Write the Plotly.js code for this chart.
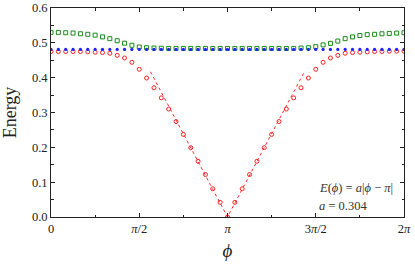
<!DOCTYPE html>
<html>
<head>
<meta charset="utf-8">
<script src="https://cdn.plot.ly/plotly-3.0.1.min.js"></script>
<style>html,body{margin:0;padding:0;background:#fff;}#chart{width:415px;height:265px;}</style>
</head>
<body>
<div id="chart"></div>
<script>
// index i -> phi = i*pi/24, i = 0..48
var nPoints = 49;
var redE = [0.475,0.475,0.475,0.475,0.475,0.474,0.473,0.472,0.470,0.464,0.4565,0.444,0.424,0.399,0.371,0.342,0.310,0.274,0.237,0.199,0.160,0.122,0.081,0.042,0.000,
            0.042,0.081,0.122,0.160,0.199,0.237,0.274,0.310,0.342,0.371,0.399,0.424,0.444,0.4565,0.464,0.470,0.472,0.473,0.474,0.475,0.475,0.476,0.476,0.476];
var blueE = [0.481,0.481,0.481,0.481,0.481,0.481,0.481,0.481,0.481,0.481,0.481,0.481,0.481,0.481,0.481,0.481,0.481,0.481,0.481,0.481,0.481,0.481,0.481,0.481,0.481,
             0.481,0.481,0.481,0.481,0.481,0.481,0.481,0.481,0.481,0.481,0.481,0.481,0.481,0.481,0.481,0.481,0.481,0.481,0.481,0.481,0.481,0.481,0.481,0.481];
var greenE = [0.530,0.530,0.529,0.528,0.526,0.5245,0.522,0.517,0.512,0.506,0.499,0.493,0.488,0.486,0.485,0.4845,0.484,0.484,0.484,0.484,0.484,0.484,0.484,0.484,0.484,
              0.484,0.484,0.484,0.484,0.484,0.484,0.484,0.484,0.484,0.485,0.486,0.489,0.494,0.4985,0.505,0.512,0.517,0.521,0.5235,0.5245,0.526,0.527,0.528,0.529];
var fitA = 0.304;
var fitPhi = [1.77, Math.PI, 4.51];
var fitE = [0.417, 0.0, 0.417];
var xTickVals = [0, Math.PI/2, Math.PI, 3*Math.PI/2, 2*Math.PI];
var xTickText = ['0', '<i>π</i>/2', '<i>π</i>', '3<i>π</i>/2', '2<i>π</i>'];
var xMinorVals = [Math.PI/4, 3*Math.PI/4, 5*Math.PI/4, 7*Math.PI/4];

var phi = [];
for (var i = 0; i < nPoints; i++) phi.push(i * Math.PI / 24);

var serif = '"Liberation Serif", "DejaVu Serif", serif';
var traces = [
  {x: fitPhi, y: fitE, mode: 'lines', line: {color: '#ff2a2a', width: 1, dash: 'dot'}, hoverinfo: 'skip'},
  {x: phi, y: redE, mode: 'markers', marker: {symbol: 'circle-open', size: 4, color: '#ff2020', line: {width: 1, color: '#ff2020'}}},
  {x: phi, y: greenE, mode: 'markers', marker: {symbol: 'square-open', size: 4, color: '#1a8a1a', line: {width: 1, color: '#1a8a1a'}}},
  {x: phi, y: blueE, mode: 'markers', marker: {symbol: 'circle', size: 3.2, color: '#2020ff'}}
];

var axisCommon = {
  showgrid: false, zeroline: false, showline: true, linecolor: '#222', linewidth: 1,
  mirror: 'ticks', ticks: 'inside', ticklen: 4, tickcolor: '#222', tickwidth: 1,
  tickfont: {family: serif, size: 12.5, color: '#222'}
};

var layout = {
  width: 415, height: 265,
  margin: {l: 51, r: 11, t: 8, b: 48},
  paper_bgcolor: '#fff', plot_bgcolor: '#fff',
  showlegend: false,
  font: {family: serif, color: '#222'},
  xaxis: Object.assign({}, axisCommon, {
    range: [0, 2*Math.PI], tickmode: 'array', tickvals: xTickVals, ticktext: xTickText,
    minor: {tickmode: 'array', tickvals: xMinorVals, ticks: 'inside', ticklen: 2.5, tickcolor: '#222'},
    title: {text: '<i>ϕ</i>', font: {family: serif, size: 19, color: '#222'}, standoff: 8}
  }),
  yaxis: Object.assign({}, axisCommon, {
    range: [0, 0.6], dtick: 0.1, tickformat: '.1f',
    minor: {dtick: 0.05, ticks: 'inside', ticklen: 2.5, tickcolor: '#222'},
    title: {text: 'Energy', font: {family: serif, size: 18, color: '#222'}, standoff: 10}
  }),
  annotations: [
    {xref: 'x', yref: 'y', x: 4.73, y: 0.083, xanchor: 'left', yanchor: 'middle', showarrow: false,
     text: '<i>E</i>(<i>ϕ</i>) = <i>a</i>|<i>ϕ</i> − <i>π</i>|', font: {family: serif, size: 12.5, color: '#333'}},
    {xref: 'x', yref: 'y', x: 4.73, y: 0.031, xanchor: 'left', yanchor: 'middle', showarrow: false,
     text: '<i>a</i> = ' + fitA.toFixed(3), font: {family: serif, size: 12.5, color: '#333'}}
  ]
};

Plotly.newPlot('chart', traces, layout, {displayModeBar: false, staticPlot: true});
</script>
</body>
</html>
